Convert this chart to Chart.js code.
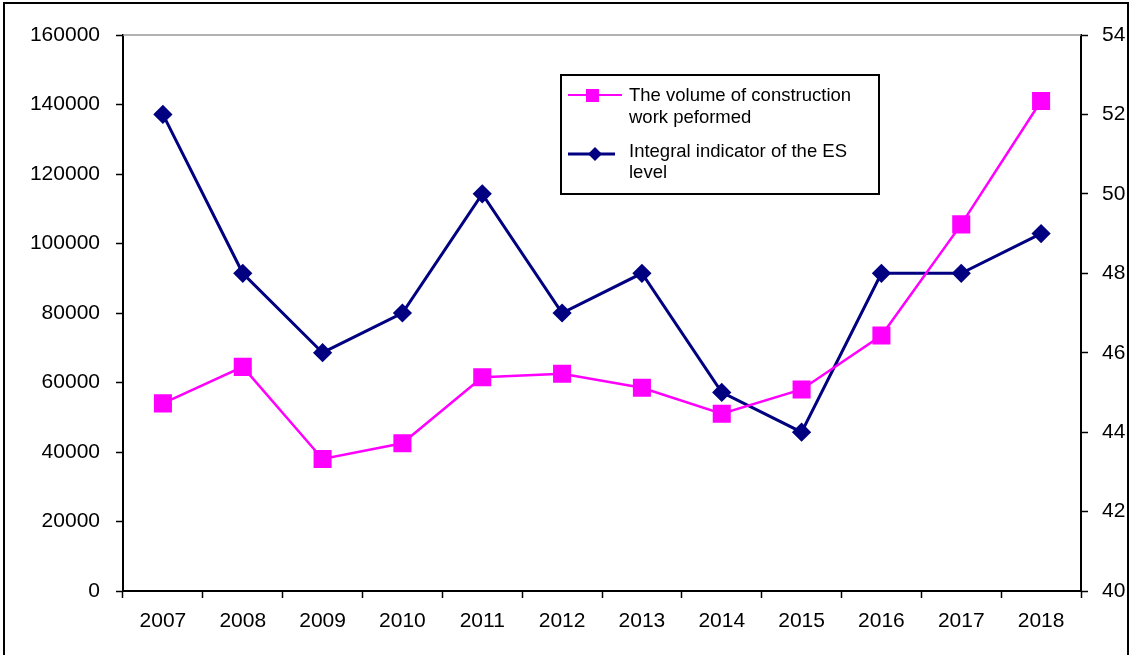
<!DOCTYPE html>
<html>
<head>
<meta charset="utf-8">
<script src="https://cdn.jsdelivr.net/npm/chart.js@4/dist/chart.umd.min.js"></script>
<style>
  body { margin: 0; background: #fff; }
  #wrap { position: relative; width: 1131px; height: 655px; overflow: hidden; }
  #frame { position: absolute; left: 3px; top: 2px; width: 1122px; height: 700px; border: 2px solid #000; pointer-events: none; }
  canvas { position: absolute; left: 0; top: 0; }
</style>
</head>
<body>
<div id="wrap">
  <canvas id="esChart" width="1131" height="655"></canvas>
  <div id="frame"></div>
</div>
<script>
const years = ['2007', '2008', '2009', '2010', '2011', '2012', '2013', '2014', '2015', '2016', '2017', '2018'];
const volumeData = [54000, 64500, 38000, 42500, 61500, 62500, 58500, 51000, 58000, 73500, 105500, 141000];
const esLevelData = [52, 48, 46, 47, 50, 47, 48, 45, 44, 48, 48, 49];
const volumeLegend = ['The volume of construction', 'work peformed'];
const esLegend = ['Integral indicator of the ES', 'level'];

const FONT = '"Liberation Sans", Arial, sans-serif';

// legend box drawn inside the plot, plus the grey top border of the plot area
const boxLegend = {
    id: 'boxLegend',
    afterDraw(chart) {
        const ctx = chart.ctx;
        const area = chart.chartArea;
        ctx.save();
        ctx.strokeStyle = '#999999';
        ctx.lineWidth = 1.5;
        ctx.beginPath();
        ctx.moveTo(area.left, area.top);
        ctx.lineTo(area.right, area.top);
        ctx.stroke();

        ctx.fillStyle = '#ffffff';
        ctx.fillRect(561, 75, 318, 119);
        ctx.strokeStyle = '#000000';
        ctx.lineWidth = 2;
        ctx.strokeRect(561, 75, 318, 119);

        ctx.font = '18.5px ' + FONT;
        ctx.textBaseline = 'middle';
        ctx.fillStyle = '#000000';

        // pink entry
        ctx.strokeStyle = '#ff00ff';
        ctx.lineWidth = 2;
        ctx.beginPath(); ctx.moveTo(568, 95); ctx.lineTo(622, 95); ctx.stroke();
        ctx.fillStyle = '#ff00ff';
        ctx.fillRect(586, 89, 13, 13);
        ctx.fillStyle = '#000000';
        ctx.fillText(volumeLegend[0], 629, 96);
        ctx.fillText(volumeLegend[1], 629, 118);

        // blue entry
        ctx.strokeStyle = '#000080';
        ctx.lineWidth = 3;
        ctx.beginPath(); ctx.moveTo(568, 154); ctx.lineTo(615, 154); ctx.stroke();
        ctx.fillStyle = '#000080';
        ctx.beginPath();
        ctx.moveTo(595, 147); ctx.lineTo(602, 154); ctx.lineTo(595, 161); ctx.lineTo(588, 154);
        ctx.closePath(); ctx.fill();
        ctx.fillStyle = '#000000';
        ctx.fillText(esLegend[0], 629, 152);
        ctx.fillText(esLegend[1], 629, 173);
        ctx.restore();
    }
};

const ctx = document.getElementById('esChart').getContext('2d');
const esChart = new Chart(ctx, {
    type: 'line',
    data: {
        labels: years,
        datasets: [{
            label: 'The volume of construction work peformed',
            data: volumeData,
            yAxisID: 'y',
            borderColor: '#ff00ff',
            backgroundColor: '#ff00ff',
            borderWidth: 2.5,
            pointStyle: 'rect',
            pointRadius: 11,
            pointHoverRadius: 11,
            tension: 0
        }, {
            label: 'Integral indicator of the ES level',
            data: esLevelData,
            yAxisID: 'y1',
            borderColor: '#000080',
            backgroundColor: '#000080',
            borderWidth: 3,
            pointStyle: 'rectRot',
            pointRadius: 7.5,
            pointHoverRadius: 7.5,
            tension: 0
        }]
    },
    options: {
        responsive: false,
        animation: false,
        layout: { padding: { top: 35, left: 0, right: 0, bottom: 0 } },
        scales: {
            x: {
                offset: true,
                grid: {
                    offset: true,
                    drawOnChartArea: false,
                    color: '#000000',
                    tickLength: 7,
                    tickWidth: 1.5
                },
                border: { color: '#000000', width: 2 },
                ticks: {
                    color: '#000000',
                    padding: 11,
                    maxRotation: 0,
                    font: { family: FONT, size: 21 }
                },
                afterFit(scale) { scale.height = 64; }
            },
            y: {
                position: 'left',
                min: 0,
                max: 160000,
                grid: {
                    drawOnChartArea: false,
                    color: '#000000',
                    tickLength: 7,
                    tickWidth: 1.5
                },
                border: { color: '#000000', width: 2 },
                ticks: {
                    stepSize: 20000,
                    color: '#000000',
                    padding: 16,
                    font: { family: FONT, size: 21 },
                    callback: v => String(v)
                },
                afterFit(scale) { scale.width = 123; }
            },
            y1: {
                position: 'right',
                min: 40,
                max: 54,
                grid: {
                    drawOnChartArea: false,
                    color: '#000000',
                    tickLength: 7,
                    tickWidth: 1.5
                },
                border: { color: '#000000', width: 2 },
                ticks: {
                    stepSize: 2,
                    color: '#000000',
                    padding: 14,
                    font: { family: FONT, size: 21 }
                },
                afterFit(scale) { scale.width = 50; }
            }
        },
        plugins: {
            legend: { display: false },
            tooltip: { enabled: false }
        }
    },
    plugins: [boxLegend]
});
</script>
</body>
</html>
